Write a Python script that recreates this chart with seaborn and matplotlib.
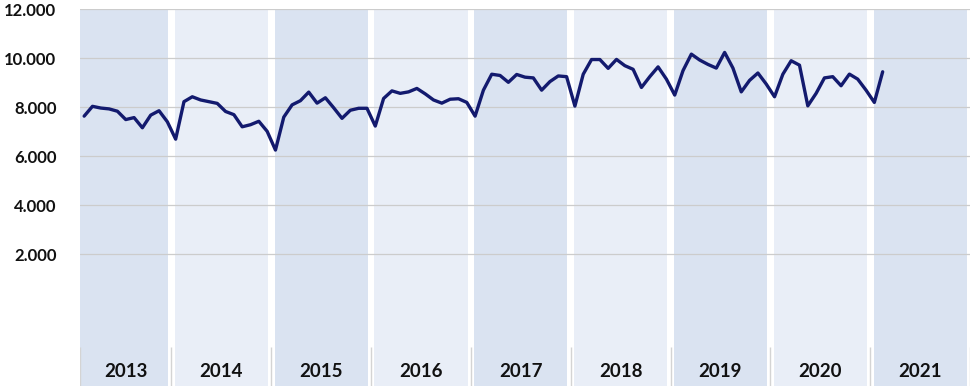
import numpy as np
import pandas as pd
import matplotlib.pyplot as plt
import seaborn as sns

sns.set_theme(style="white")
plt.rcParams['font.family'] = ['Lato', 'DejaVu Sans']

# monthly series, Feb 2013 .. Feb 2021
start_month = "2013-02"
values = [
    7640, 8040, 7970, 7935, 7840, 7500, 7580, 7165, 7680, 7860, 7410,
    6700, 8230, 8430, 8300, 8230, 8160, 7830, 7700, 7205, 7290, 7430, 7020,
    6255, 7600, 8100, 8270, 8620, 8170, 8390, 7980, 7550, 7880, 7960, 7960,
    7235, 8360, 8670, 8570, 8630, 8770, 8550, 8300, 8170, 8330, 8350, 8200,
    7640, 8700, 9350, 9300, 9020, 9340, 9230, 9200, 8700, 9050, 9280, 9250,
    8050, 9350, 9950, 9950, 9590, 9955, 9700, 9550, 8810, 9250, 9650, 9150,
    8500, 9500, 10170, 9930, 9750, 9600, 10240, 9600, 8630, 9100, 9400, 8950,
    8430, 9350, 9900, 9720, 8060, 8570, 9200, 9250, 8880, 9355, 9150, 8700,
    8200, 9450,
]
years = [2013, 2014, 2015, 2016, 2017, 2018, 2019, 2020, 2021]
band_colors = ["#DAE3F1", "#E9EEF7"]
yticks = [2000, 4000, 6000, 8000, 10000, 12000]

y_top = 12000
y_bottom = -3374

df = pd.DataFrame({"date": pd.period_range(start_month, periods=len(values), freq="M"),
                   "value": values})
first = pd.Period(start_month, freq="M")
df["idx"] = [(p - first).n for p in df["date"]]
n_months = (pd.Period(f"{years[-1]}-12", freq="M") - first).n + 1

fig = plt.figure(figsize=(9.72, 3.86), dpi=100)
ax = fig.add_axes([80 / 972, 0, 890 / 972, 1 - 9.3 / 386])

# year bands
for k, yr in enumerate(years):
    y0 = (pd.Period(f"{yr}-01", freq="M") - first).n - 0.5
    ax.bar(y0 + 6, y_top - y_bottom, width=12 - 0.8, bottom=y_bottom,
           color=band_colors[k % 2], zorder=1, linewidth=0)
    lo = max(y0, -0.5)
    hi = min(y0 + 12, n_months - 0.5)
    ax.text((lo + hi) / 2, -2800, str(yr), ha="center", va="center",
            fontsize=13.5, fontweight="bold", color="#111111")
    ax.vlines(lo, y_bottom, -1780, color="#d4d4d4", lw=1, zorder=2)
ax.vlines(n_months - 0.5, y_bottom, -1780, color="#d4d4d4", lw=1, zorder=2)

sns.lineplot(data=df, x="idx", y="value", ax=ax, color="#131A6E", lw=2.4,
             zorder=3, solid_capstyle="round", solid_joinstyle="round")

ax.set_xlim(-0.5, n_months - 0.5)
ax.set_ylim(y_bottom, y_top)
ax.set_yticks(yticks)
ax.set_yticklabels([f"{v:,.0f}".replace(",", ".") for v in yticks],
                   fontsize=12, fontweight="bold", color="#111111")
ax.set_xticks([])
ax.tick_params(axis="y", length=0, pad=17)
ax.set_axisbelow("line")
ax.grid(axis="y", color="#cccccc", lw=0.9)
ax.set_xlabel("")
ax.set_ylabel("")
for s in ax.spines.values():
    s.set_visible(False)

fig.savefig("out.png", dpi=100)
